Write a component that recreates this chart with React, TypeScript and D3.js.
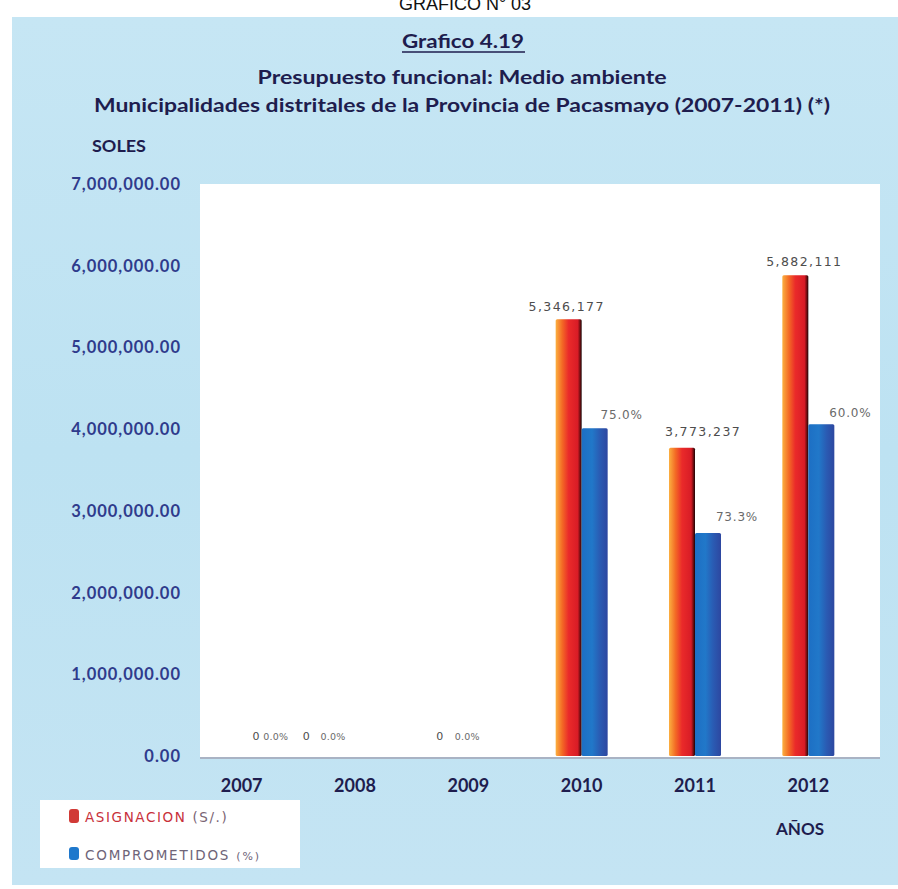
import React from "react";
import * as d3 from "d3";

const years = ["2007", "2008", "2009", "2010", "2011", "2012"];
const asignacion = [0, 0, 0, 5346177, 3773237, 5882111];
const comprometidoSoles = [0, 0, 0, 4010000, 2730000, 4060000];
const comprometidoPct = ["0.0%", "0.0%", "0.0%", "75.0%", "73.3%", "60.0%"];
const yTicks = [0, 1000000, 2000000, 3000000, 4000000, 5000000, 6000000, 7000000];
const seriesKeys = ["asignacion", "comprometido"];
const legendItems = ["ASIGNACION", "COMPROMETIDOS"];

// label layout tweaks (pixels)
const dxA = [28, -35, -15, -2, 21, 9];
const dxB = [21, -35, -14, 27, 29, 29];
const dyA = [-16, -16, -16, -8, -12, -9];
const dyB = [-16, -16, -16, -9, -12, -7];

const W = 898;
const H = 889;
const plot = { left: 200, right: 880, top: 184, bottom: 757 };

export default function App() {
  const x = d3.scaleBand<string>().domain(years).range([185, 865]).padding(0);
  const y = d3.scaleLinear().domain([0, 7000000]).range([756, 184]);
  const fmtTick = (v: number) => (v === 0 ? "0.00" : d3.format(",.2f")(v));
  const fmtVal = (v: number) => (v === 0 ? "0" : d3.format(",")(v));

  const navy = "#1e1d4e";
  const tickColor = "#2f3b8c";
  const titleFont = "Lato, 'Open Sans', sans-serif";

  return (
    <svg
      width={W}
      height={H}
      style={{ position: "absolute", left: 0, top: 0 }}
      xmlns="http://www.w3.org/2000/svg"
    >
      <defs>
        <linearGradient id="gRed" x1="0" x2="1" y1="0" y2="0">
          <stop offset="0%" stopColor="#fbb040" />
          <stop offset="25%" stopColor="#f36a25" />
          <stop offset="50%" stopColor="#ea2a2a" />
          <stop offset="85%" stopColor="#d81c26" />
          <stop offset="93%" stopColor="#7a0e12" />
          <stop offset="100%" stopColor="#1a0606" />
        </linearGradient>
        <linearGradient id="gBlue" x1="0" x2="1" y1="0" y2="0">
          <stop offset="0%" stopColor="#1d6fc4" />
          <stop offset="40%" stopColor="#2178c9" />
          <stop offset="70%" stopColor="#2a5bb3" />
          <stop offset="100%" stopColor="#2d47a0" />
        </linearGradient>
        <linearGradient id="gBg" x1="0" x2="0" y1="0" y2="1">
          <stop offset="0%" stopColor="#c6e6f4" />
          <stop offset="50%" stopColor="#bde2f2" />
          <stop offset="100%" stopColor="#c4e4f3" />
        </linearGradient>
      </defs>

      <rect x={0} y={0} width={W} height={H} fill="#ffffff" />
      <text
        x={465}
        y={10}
        textAnchor="middle"
        fontFamily="'Liberation Sans', Arial, sans-serif"
        fontSize={18}
        fill="#111"
      >
        GRAFICO N° 03
      </text>
      <rect x={12} y={17} width={W - 12} height={868} fill="url(#gBg)" />

      {/* Titles */}
      <text
        x={463}
        y={48}
        textAnchor="middle"
        fontFamily={titleFont}
        fontWeight={700}
        fontSize={18}
        fill={navy}
        textLength={122}
        lengthAdjust="spacingAndGlyphs"
      >
        Grafico 4.19
      </text>
      <line x1={402} x2={525} y1={52} y2={52} stroke={navy} strokeWidth={1.5} />
      <text
        x={462}
        y={84}
        textAnchor="middle"
        fontFamily={titleFont}
        fontWeight={700}
        fontSize={19}
        fill={navy}
        textLength={409}
        lengthAdjust="spacingAndGlyphs"
      >
        Presupuesto funcional: Medio ambiente
      </text>
      <text
        x={462}
        y={112}
        textAnchor="middle"
        fontFamily={titleFont}
        fontWeight={700}
        fontSize={19}
        fill={navy}
        textLength={736}
        lengthAdjust="spacingAndGlyphs"
      >
        Municipalidades distritales de la Provincia de Pacasmayo (2007-2011) (*)
      </text>
      <text
        x={92}
        y={152}
        fontFamily={titleFont}
        fontWeight={700}
        fontSize={17}
        fill={navy}
        textLength={54}
        lengthAdjust="spacingAndGlyphs"
      >
        SOLES
      </text>

      {/* Plot area */}
      <rect
        x={plot.left}
        y={plot.top}
        width={plot.right - plot.left}
        height={plot.bottom - plot.top}
        fill="#ffffff"
      />
      <line
        x1={plot.left}
        x2={plot.right}
        y1={plot.bottom + 1}
        y2={plot.bottom + 1}
        stroke="#a9b3c4"
        strokeWidth={2}
      />

      {/* Y ticks */}
      {yTicks.map((t) => (
        <text
          key={t}
          x={181}
          y={y(t) + 6}
          textAnchor="end"
          fontFamily={titleFont}
          fontWeight={700}
          fontSize={16.5}
          letterSpacing={1}
          fill={tickColor}
        >
          {fmtTick(t)}
        </text>
      ))}

      {/* Bars */}
      {years.map((yr, i) => {
        const c = (x(yr) as number) + x.bandwidth() / 2;
        const inner = d3.scaleBand<string>().domain(seriesKeys).range([c - 26, c + 26]);
        const vals = [asignacion[i], comprometidoSoles[i]];
        const fills = ["url(#gRed)", "url(#gBlue)"];
        const isZero = asignacion[i] === 0;
        return (
          <g key={yr}>
            {seriesKeys.map((k, j) => {
              const v = vals[j];
              if (v <= 0) return null;
              const top = y(v);
              return (
                <rect
                  key={k}
                  x={inner(k) as number}
                  y={top}
                  width={inner.bandwidth()}
                  height={y(0) - top}
                  fill={fills[j]}
                  rx={1.5}
                />
              );
            })}
            <text
              x={(inner("asignacion") as number) + inner.bandwidth() / 2 + dxA[i]}
              y={y(asignacion[i]) + dyA[i]}
              textAnchor="middle"
              fontFamily="'DejaVu Sans', sans-serif"
              fontSize={isZero ? 11 : 12.5}
              letterSpacing={1.4}
              fill="#4d4d4d"
            >
              {fmtVal(asignacion[i])}
            </text>
            <text
              x={(inner("comprometido") as number) + inner.bandwidth() / 2 + dxB[i]}
              y={y(comprometidoSoles[i]) + dyB[i]}
              textAnchor="middle"
              fontFamily="'DejaVu Sans', sans-serif"
              fontSize={isZero ? 9.5 : 12}
              letterSpacing={isZero ? 0.2 : 0.8}
              fill="#6a6a6a"
            >
              {comprometidoPct[i]}
            </text>
            <text
              x={c}
              y={792}
              textAnchor="middle"
              fontFamily={titleFont}
              fontWeight={700}
              fontSize={18}
              fill={navy}
            >
              {yr}
            </text>
          </g>
        );
      })}

      <text
        x={800}
        y={835}
        textAnchor="middle"
        fontFamily={titleFont}
        fontWeight={700}
        fontSize={17}
        fill={navy}
      >
        AÑOS
      </text>

      {/* Legend */}
      <rect x={40} y={800} width={260} height={68} fill="#ffffff" />
      <rect x={69} y={809} width={10} height={14} rx={3} fill="#d13a36" />
      <text
        x={85}
        y={822}
        fontFamily="'DejaVu Sans', sans-serif"
        fontSize={13.5}
        letterSpacing={1.6}
        fill="#7a6474"
      >
        <tspan fill="#c8303a">{legendItems[0]}</tspan> (S/.)
      </text>
      <rect x={69} y={847} width={10} height={13} rx={3} fill="#1f78cc" />
      <text
        x={85}
        y={860}
        fontFamily="'DejaVu Sans', sans-serif"
        fontSize={13.5}
        letterSpacing={1.8}
        fill="#6e6478"
      >
        {legendItems[1]} <tspan fontSize={11}>(%)</tspan>
      </text>
    </svg>
  );
}
